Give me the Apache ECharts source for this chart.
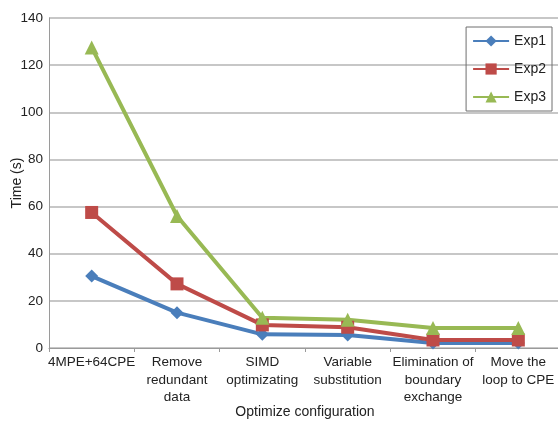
<!DOCTYPE html>
<html><head><meta charset="utf-8">
<script src="https://cdn.jsdelivr.net/npm/echarts@6/dist/echarts.min.js"></script>
<style>html,body{margin:0;padding:0;background:#fff}#c{width:558px;height:421px}</style>
</head><body><div id="c"></div>
<script>
const categories = ["4MPE+64CPE", "Remove\nredundant\ndata", "SIMD\noptimizating", "Variable\nsubstitution", "Elimination of\nboundary\nexchange", "Move the\nloop to CPE"];
const exp1 = [30.5, 15, 5.8, 5.5, 2.1, 2.1];
const exp2 = [57.5, 27.2, 9.8, 8.8, 3.4, 3.4];
const exp3 = [127.5, 56, 12.8, 12, 8.5, 8.5];
const yTicks = [0, 20, 40, 60, 80, 100, 120, 140];

const chart = echarts.init(document.getElementById('c'), null, {renderer: 'canvas'});
const font = 'Liberation Sans, Arial, sans-serif';
function s(name, data, color, symbol, size) {
  return {name, type: 'line', data, symbol, symbolSize: size,
    lineStyle: {color, width: 4}, itemStyle: {color}, color};
}
chart.setOption({
  animation: false,
  textStyle: {fontFamily: font},
  grid: {left: 49, top: 18, width: 512, height: 330, containLabel: false, outerBoundsMode: 'none'},
  legend: {
    orient: 'vertical', right: 6, top: 27, padding: [7, 6, 7, 6],
    borderColor: '#6f6f6f', borderWidth: 1, itemGap: 14, itemWidth: 36, itemHeight: 14,
    textStyle: {fontFamily: font, fontSize: 14, color: '#222'},
    data: ['Exp1', 'Exp2', 'Exp3']
  },
  xAxis: {
    type: 'category', data: categories, boundaryGap: true,
    name: 'Optimize configuration', nameLocation: 'middle', nameGap: 57, nameMoveOverlap: false,
    nameTextStyle: {fontFamily: font, fontSize: 14, color: '#222'},
    axisLine: {lineStyle: {color: '#9a9a9a', width: 1}},
    axisTick: {show: true, alignWithLabel: false, length: 4, lineStyle: {color: '#9a9a9a'}},
    axisLabel: {interval: 0, fontFamily: font, fontSize: 13.5, color: '#222', lineHeight: 17.5, margin: 6}
  },
  yAxis: {
    type: 'value', min: yTicks[0], max: yTicks[yTicks.length - 1], interval: 20,
    name: 'Time (s)', nameLocation: 'middle', nameGap: 25, nameRotate: 90, nameMoveOverlap: false,
    nameTextStyle: {fontFamily: font, fontSize: 14, color: '#222'},
    axisLine: {show: true, lineStyle: {color: '#9a9a9a'}},
    axisTick: {show: false},
    axisLabel: {fontFamily: font, fontSize: 13.5, color: '#222', margin: 6},
    splitLine: {lineStyle: {color: '#b5b5b5', width: 1.5}}
  },
  series: [
    s('Exp1', exp1, '#4a7ebb', 'diamond', 13),
    s('Exp2', exp2, '#be4b48', 'rect', 13),
    s('Exp3', exp3, '#98b954', 'triangle', 14)
  ]
});
</script></body></html>
